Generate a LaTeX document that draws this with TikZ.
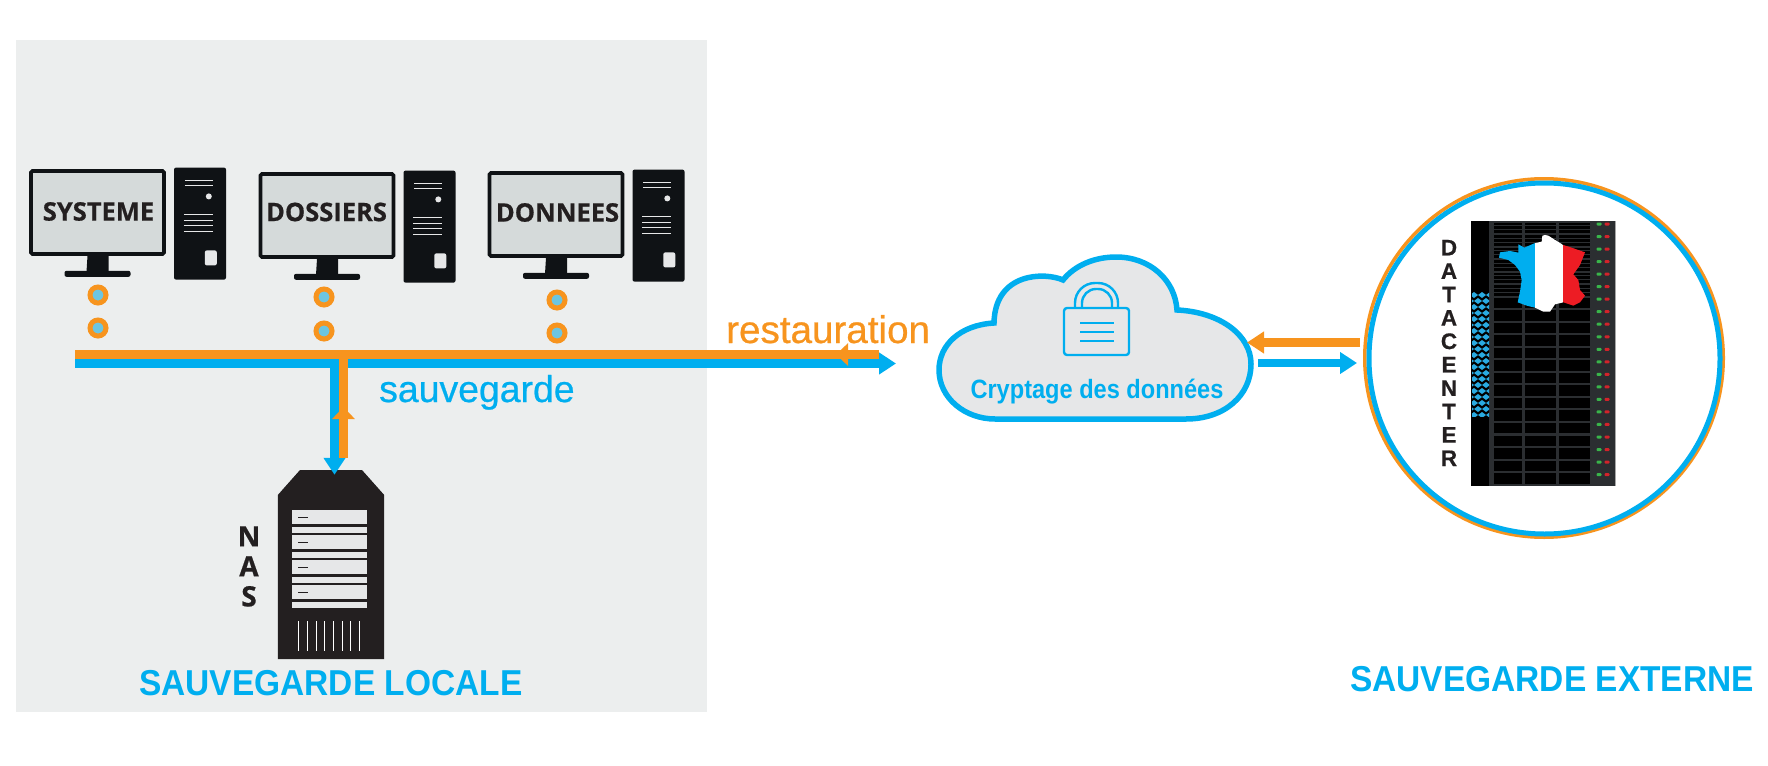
\documentclass[tikz,border=0pt]{standalone}
\usepackage{fontspec}
\setmainfont{Liberation Sans}
\newfontfamily\screenfont[FakeBold=0.6]{Open Sans}
\newfontfamily\mediumfont[FakeBold=0.6]{Liberation Sans}
\newfontfamily\narrowfont[FakeStretch=0.89]{Liberation Sans}
\newfontfamily\titlefont[FakeStretch=0.93]{Liberation Sans}
\usetikzlibrary{arrows.meta,positioning}
\definecolor{sblue}{HTML}{00AEEF}
\definecolor{sorange}{HTML}{F7941E}
\definecolor{panelgray}{HTML}{ECEEEE}
\definecolor{pcblack}{HTML}{0F1215}
\definecolor{nasblack}{HTML}{231F20}
\definecolor{screengray}{HTML}{D5DADA}
\definecolor{cloudgray}{HTML}{E6E7E8}
\definecolor{rackgray}{HTML}{2B2E31}
\definecolor{ledgreen}{HTML}{39B54A}
\definecolor{ledred}{HTML}{D2232A}
\definecolor{flagred}{HTML}{ED1C24}
\definecolor{dotblue}{HTML}{6DC5E0}
\definecolor{meshblue}{HTML}{29ABE2}
\tikzstyle{screen} = [rectangle, draw=pcblack, fill=screengray, line width=3.6pt, rounded corners=1.5pt,
    minimum width=133pt, minimum height=83pt, inner sep=0pt]
\tikzstyle{screenlabel} = [inner sep=0pt, text=nasblack, font=\screenfont\bfseries\fontsize{25.5}{28}\selectfont]
\tikzstyle{tower} = [rectangle, fill=pcblack, rounded corners=2pt, minimum width=52pt, minimum height=112pt, inner sep=0pt]
\tikzstyle{slit} = [draw=cloudgray, line width=1.6pt]
\tikzstyle{porthole} = [circle, draw=sorange, fill=dotblue, line width=5pt, minimum size=16pt, inner sep=0pt]
\tikzstyle{blueline} = [draw=sblue, line width=8.5pt]
\tikzstyle{orangeline} = [draw=sorange, line width=9pt]
\tikzstyle{bluearrow} = [blueline, -{Triangle[length=17pt,width=21pt]}]
\tikzstyle{orangearrow} = [orangeline, -{Triangle[length=12pt,width=22pt]}]
\tikzstyle{orangehead} = [orangeline, -{Triangle[length=17pt,width=21pt]}]
\tikzstyle{lockline} = [draw=sblue, line width=2.4pt]
\tikzstyle{title} = [anchor=base west, inner sep=0pt, text=sblue, font=\titlefont\bfseries\fontsize{36}{40}\selectfont]
\tikzstyle{stacked} = [align=center, inner sep=0pt, text=nasblack]
\begin{document}
\begin{tikzpicture}[x=1pt, y=-1pt]
    \useasboundingbox (0,0) rectangle (1768,765);
    \fill[panelgray] (16,40) rectangle (707,712);
    % Place nodes
    \foreach \n/\x/\y/\lx/\ly/\lab/\dx/\dya/\dyb in {1/97.5/212.5/98.5/211.5/SYSTEME/0.5/295/328, 2/327/215.5/326.5/212/DOSSIERS/-3/297/331, 3/556/214.5/557.5/212.5/DONNEES/1/300/333} {
        \node [screen] (screen\n) at (\x,\y) {};
        \node [screenlabel] (label\n) at (\lx,\ly) {\lab};
        \node [tower, right = 8pt of screen\n.north east, anchor=north west, yshift=1.8pt] (tower\n) {};
        \fill[pcblack] ([xshift=-10pt]screen\n.south) -- ([xshift=11pt]screen\n.south) -- ([shift={(11,16)}]screen\n.south) -- ([shift={(-11,16)}]screen\n.south) -- cycle;
        \fill[pcblack, rounded corners=2pt] ([shift={(-33,15)}]screen\n.south) rectangle ([shift={(33,21)}]screen\n.south);
        \foreach \dy in {13,18}
            \draw[slit] ([shift={(11,\dy)}]tower\n.north west) -- ++(28,0);
        \foreach \dy in {47,53,58,64}
            \draw[slit] ([shift={(10,\dy)}]tower\n.north west) -- ++(29,0);
        \fill[cloudgray] ([shift={(35,29)}]tower\n.north west) circle (3pt);
        \fill[cloudgray, rounded corners=2pt] ([shift={(31,83)}]tower\n.north west) rectangle ([shift={(43,98)}]tower\n.north west);
        \node [porthole] (upper\n) at (\x+\dx,\dya) {};
        \node [porthole] (lower\n) at (\x+\dx,\dyb) {};
    }
    % NAS
    \node [minimum width=106pt, minimum height=189pt, inner sep=0pt] (nas) at (331,564.5) {};
    \fill[nasblack] (300,470) -- (362,470) -- (nas.east |- 0,495) -- (nas.south east) -- (nas.south west) -- (nas.west |- 0,495) -- cycle;
    \foreach \i in {0,1,2,3} {
        \fill[cloudgray] (292,510+25*\i) rectangle (367,524+25*\i);
        \fill[cloudgray] (292,527+25*\i) rectangle (367,533+25*\i);
        \draw[nasblack, line width=1pt] (298,517+25*\i) -- (308,517+25*\i);
    }
    \foreach \x in {298,307,316,324,333,342,350,359}
        \draw[white, line width=0.6pt] (\x,621) -- (\x,651);
    \node [stacked, font=\screenfont\bfseries\fontsize{28}{30}\selectfont] (naslabel) at (249,566.5) {N\\A\\S};
    % Cloud
    \filldraw[draw=sblue, fill=cloudgray, line width=5.5pt] (995,419) -- (1186,419)
        .. controls (1225,419) and (1251,395) .. (1251,364)
        .. controls (1251,335) and (1220,312) .. (1177,310)
        .. controls (1175,280) and (1150,257) .. (1116,257)
        .. controls (1095,257) and (1075,265) .. (1063,280)
        .. controls (1045,272) and (995,272) .. (994,323)
        .. controls (960,325) and (939,345) .. (939,370)
        .. controls (939,398) and (965,419) .. (995,419) -- cycle;
    \draw[lockline, rounded corners=3pt] (1064,308) rectangle (1129,355);
    \draw[lockline, rounded corners=20pt] (1075,308) -- (1075,283) -- (1118,283) -- (1118,308);
    \draw[lockline, rounded corners=14pt] (1082,308) -- (1082,289) -- (1112,289) -- (1112,308);
    \foreach \y in {323,332,341}
        \draw[draw=sblue, line width=1.6pt] (1080,\y) -- (1114,\y);
    \node [anchor=base, inner sep=0pt, text=sblue, font=\narrowfont\bfseries\fontsize{26.5}{30}\selectfont] (crypt) at (1097,398) {Cryptage des données};
    % Datacenter
    \node [circle, draw=sorange, fill=white, line width=3.5pt, minimum size=358.5pt, inner sep=0pt] (dc) at (1544,358) {};
    \node [circle, draw=sblue, line width=5pt, minimum size=351pt, inner sep=0pt] (dcring) at (1544.5,358.5) {};
    \node [rectangle, fill=rackgray, minimum width=145pt, minimum height=265pt, inner sep=0pt] (rack) at (1543.5,353.5) {};
    \fill[black] (1471,221) rectangle (1489,486);
    \draw[gray!70, line width=1pt] (1615.5,221) -- (1615.5,486);
    \foreach \i in {0,...,20} {
        \foreach \xa/\xb in {1494/1522,1525/1556,1559/1590} {
            \fill[black] (\xa,222.5+12.53*\i) rectangle (\xb,233+12.53*\i);
            \ifnum\i<6
                \draw[rackgray, line width=0.5pt] (\xa,225.5+12.53*\i) -- (\xb,225.5+12.53*\i);
                \draw[rackgray, line width=0.5pt] (\xa,229.5+12.53*\i) -- (\xb,229.5+12.53*\i);
            \fi
        }
        \fill[ledgreen, rounded corners=1pt] (1596.5,222.5+12.53*\i) rectangle (1601.5,225.5+12.53*\i);
        \fill[ledred, rounded corners=1pt] (1604.5,222.5+12.53*\i) rectangle (1609.5,225.5+12.53*\i);
    }
    \begin{scope}
        \clip (1472,292) rectangle (1489,416);
        \foreach \i in {0,...,20} {
            \pgfmathsetmacro{\rowx}{mod(\i,2)==0 ? 1474 : 1478}
            \foreach \k in {-1,0,1,2}
                \fill[meshblue] (\rowx+8*\k-4,295+6*\i) -- (\rowx+8*\k,292+6*\i) -- (\rowx+8*\k+4,295+6*\i) -- (\rowx+8*\k,298+6*\i) -- cycle;
        }
    \end{scope}
    % France
    \begin{scope}[shift={(1465,215)}, x=0.3333pt, y=-0.3333pt]
        \clip (240,60) -- (250,62) -- (275,78) -- (295,90) -- (320,98) -- (360,112) -- (345,150) -- (325,178) -- (340,195) -- (345,225) -- (360,242) -- (345,262) -- (325,272) -- (295,262) -- (270,268) -- (255,290) -- (235,290) -- (210,278) -- (185,272) -- (158,262) -- (165,230) -- (170,195) -- (165,170) -- (150,150) -- (130,135) -- (102,128) -- (105,112) -- (135,108) -- (160,113) -- (160,88) -- (178,98) -- (208,85) -- (230,80) -- (232,62) -- cycle;
        \fill[sblue] (90,50) rectangle (210,300);
        \fill[white] (210,50) rectangle (295,300);
        \fill[flagred] (295,50) rectangle (370,300);
    \end{scope}
    \node [stacked, font=\mediumfont\bfseries\fontsize{22.5}{23.4}\selectfont] (dclabel) at (1449,353) {D\\A\\T\\A\\C\\E\\N\\T\\E\\R};
    % Connectors
    \coordinate (busleftblue) at (75,363.5);
    \coordinate (busendblue) at (896,363.5);
    \coordinate (busleftorange) at (75,354.5);
    \coordinate (busendorange) at (879,354.5);
    \coordinate (busback) at (836,354.5);
    \coordinate (nasdown) at (334.5,363);
    \coordinate (nasup) at (343.5,458);
    \coordinate (nastip) at (343.5,407);
    \coordinate (bustee) at (343.5,355);
    \coordinate (cloudout) at (1258,363);
    \coordinate (dcin) at (1357,363);
    \coordinate (dcout) at (1360,342.5);
    \coordinate (cloudin) at (1247,342.5);
    \path [bluearrow] (busleftblue) -- (busendblue);
    \path [bluearrow, shorten >=-5pt] (nasdown) -- (nasdown |- nas.north);
    \path [orangeline] (busendorange) -- (busleftorange);
    \path [orangearrow] (busendorange) -- (busback);
    \path [orangeline] (nasup) -- (bustee);
    \path [orangearrow] (nasup) -- (nastip);
    \path [bluearrow] (cloudout) -- (dcin);
    \path [orangehead] (dcout) -- (cloudin);
    % Labels
    \node [anchor=base west, inner sep=0pt, text=sorange, font=\mediumfont\fontsize{38.6}{44}\selectfont] (restore) at (726,343) {restauration};
    \node [anchor=base west, inner sep=0pt, text=sblue, font=\mediumfont\fontsize{37.4}{42}\selectfont] (backup) at (379,402) {sauvegarde};
    \node [title] (local) at (139,695) {SAUVEGARDE LOCALE};
    \node [title] (external) at (1350,691) {SAUVEGARDE EXTERNE};
\end{tikzpicture}
\end{document}
